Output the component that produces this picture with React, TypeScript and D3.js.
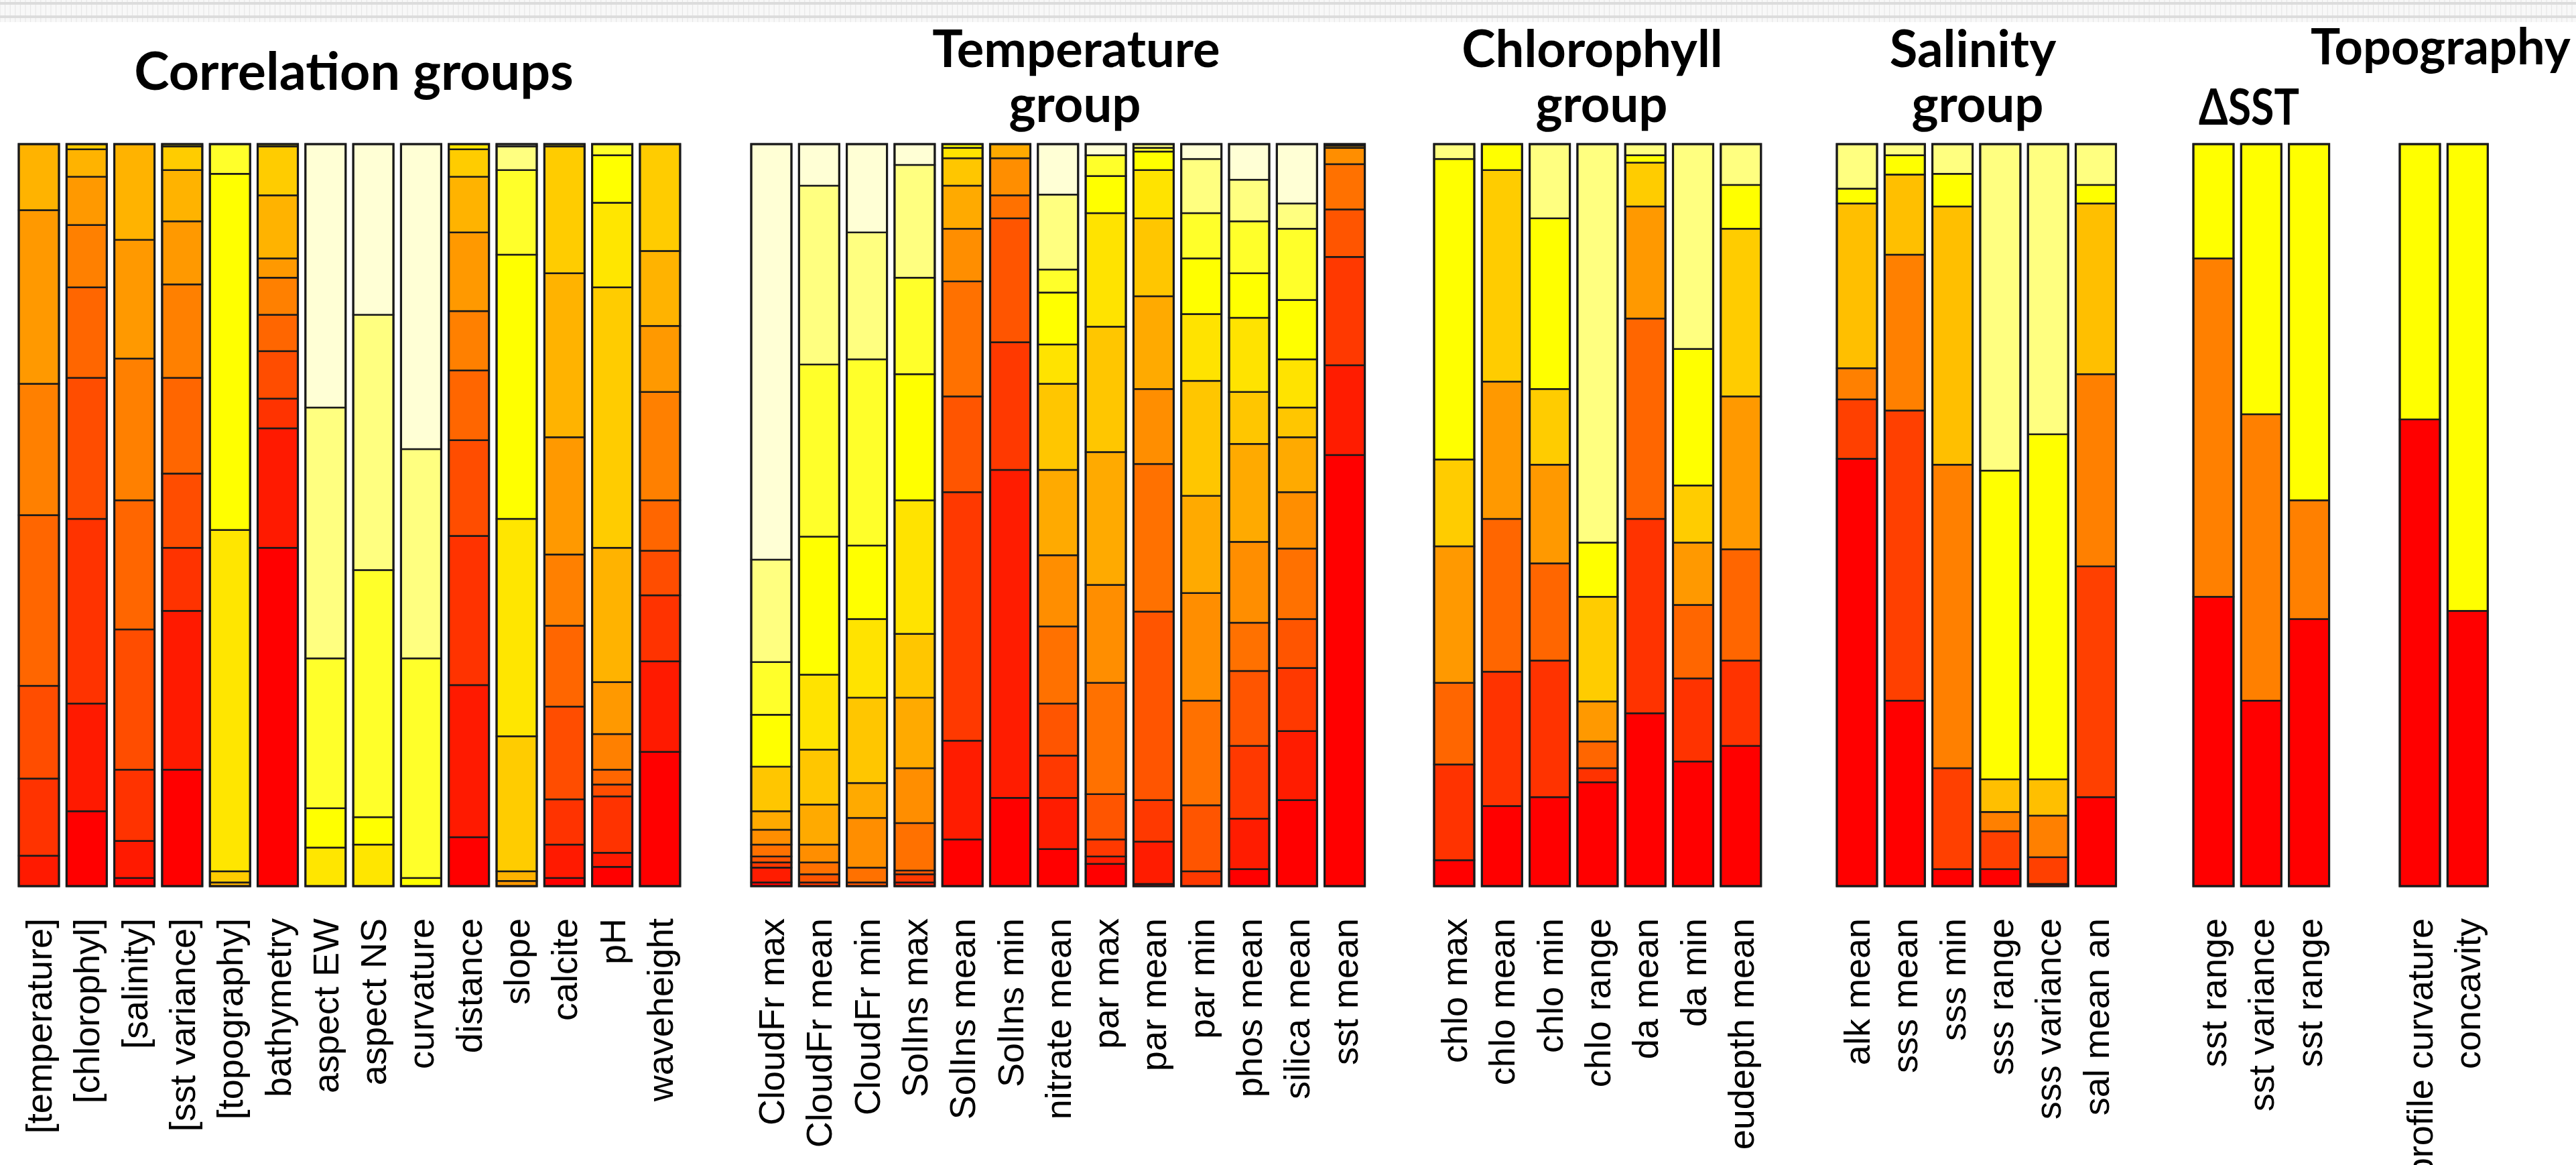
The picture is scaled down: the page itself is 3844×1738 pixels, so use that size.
import React from 'react';
import * as d3 from 'd3';

// share of each rank (rank 1 = red, at the bottom) for every variable
const corrLabels = ['[temperature]', '[chlorophyl]', '[salinity]', '[sst variance]', '[topography]', 'bathymetry', 'aspect EW', 'aspect NS', 'curvature', 'distance', 'slope', 'calcite', 'pH', 'waveheight'];
const corrValues = [
  [0, 0.041, 0.104, 0.125, 0.23, 0.177, 0.234, 0.089, 0, 0, 0, 0, 0, 0],
  [0.101, 0.145, 0.249, 0.19, 0.122, 0.084, 0.065, 0.037, 0.007, 0, 0, 0, 0, 0],
  [0.011, 0.05, 0.096, 0.189, 0.174, 0.191, 0.16, 0.129, 0, 0, 0, 0, 0, 0],
  [0.157, 0.214, 0.085, 0.1, 0.129, 0.126, 0.085, 0.069, 0.032, 0.003, 0, 0, 0, 0],
  [0, 0, 0, 0, 0, 0, 0, 0.005, 0.015, 0.46, 0.48, 0.04, 0, 0],
  [0.456, 0.161, 0.04, 0.064, 0.049, 0.05, 0.026, 0.085, 0.066, 0.003, 0, 0, 0, 0],
  [0, 0, 0, 0, 0, 0, 0, 0, 0, 0.052, 0.053, 0.202, 0.338, 0.355],
  [0, 0, 0, 0, 0, 0, 0, 0, 0, 0.056, 0.037, 0.333, 0.344, 0.23],
  [0, 0, 0, 0, 0, 0, 0, 0, 0, 0, 0.011, 0.296, 0.282, 0.411],
  [0.066, 0.205, 0.201, 0.129, 0.094, 0.08, 0.106, 0.075, 0.037, 0.007, 0, 0, 0, 0],
  [0, 0, 0, 0, 0, 0, 0.007, 0.013, 0.182, 0.293, 0.356, 0.114, 0.032, 0.003],
  [0.011, 0.045, 0.061, 0.125, 0.109, 0.096, 0.158, 0.221, 0.171, 0.003, 0, 0, 0, 0],
  [0.026, 0.019, 0.076, 0.016, 0.02, 0.048, 0.07, 0.181, 0.351, 0.114, 0.064, 0.015, 0, 0],
  [0.181, 0.122, 0.089, 0.06, 0.068, 0.146, 0.089, 0.101, 0.144, 0, 0, 0, 0, 0],
];

const tempLabels = ['CloudFr max', 'CloudFr mean', 'CloudFr min', 'SolIns max', 'SolIns mean', 'SolIns min', 'nitrate mean', 'par max', 'par mean', 'par min', 'phos mean', 'silica mean', 'sst mean'];
const tempValues = [
  [0.005, 0.02, 0.007, 0.008, 0.016, 0.02, 0.025, 0.06, 0, 0.07, 0.071, 0.138, 0.56],
  [0, 0, 0.005, 0.011, 0.016, 0.024, 0.054, 0.074, 0.101, 0.186, 0.232, 0.241, 0.056],
  [0, 0, 0, 0.005, 0.02, 0.067, 0.047, 0.115, 0.106, 0.099, 0.251, 0.171, 0.119],
  [0, 0.005, 0.011, 0.005, 0.064, 0.074, 0.095, 0.086, 0.18, 0.17, 0.13, 0.152, 0.028],
  [0.063, 0.133, 0.335, 0.129, 0.155, 0.071, 0.058, 0.037, 0.014, 0.005, 0, 0, 0],
  [0.119, 0.442, 0.172, 0.167, 0.031, 0.05, 0.019, 0, 0, 0, 0, 0, 0],
  [0.05, 0.069, 0.057, 0.07, 0.104, 0.096, 0.115, 0.116, 0.053, 0.07, 0.031, 0.101, 0.068],
  [0.03, 0.01, 0.023, 0.061, 0.15, 0.132, 0.179, 0.169, 0.153, 0.05, 0.028, 0, 0.015],
  [0.003, 0.057, 0.056, 0.254, 0.199, 0.101, 0.125, 0.105, 0.065, 0.025, 0.005, 0.005, 0],
  [0, 0, 0.02, 0.089, 0.141, 0.145, 0.131, 0.155, 0.09, 0.075, 0.061, 0.073, 0.02],
  [0.023, 0.068, 0.098, 0.101, 0.065, 0.109, 0.132, 0.07, 0.1, 0.06, 0.07, 0.056, 0.048],
  [0.116, 0.093, 0.085, 0.066, 0.095, 0.076, 0.074, 0.04, 0.065, 0.08, 0.096, 0.034, 0.08],
  [0.581, 0.121, 0.146, 0.064, 0.061, 0.022, 0.003, 0.002, 0, 0, 0, 0, 0],
];

const chloLabels = ['chlo max', 'chlo mean', 'chlo min', 'chlo range', 'da mean', 'da min', 'eudepth mean'];
const chloValues = [
  [0.035, 0.129, 0.11, 0.184, 0.117, 0.405, 0.02],
  [0.108, 0.181, 0.206, 0.185, 0.285, 0.035, 0],
  [0.12, 0.184, 0.131, 0.133, 0.102, 0.23, 0.1],
  [0.14, 0.019, 0.036, 0.054, 0.141, 0.073, 0.537],
  [0.233, 0.262, 0.27, 0.151, 0.059, 0.01, 0.015],
  [0.168, 0.112, 0.099, 0.084, 0.077, 0.184, 0.276],
  [0.189, 0.115, 0.15, 0.206, 0.226, 0.059, 0.055],
];

const salLabels = ['alk mean', 'sss mean', 'sss min', 'sss range', 'sss variance', 'sal mean an'];
const salValues = [
  [0.576, 0.08, 0.042, 0.222, 0.02, 0.06],
  [0.25, 0.391, 0.21, 0.108, 0.026, 0.015],
  [0.023, 0.136, 0.409, 0.348, 0.044, 0.04],
  [0.023, 0.051, 0.026, 0.044, 0.416, 0.44],
  [0.003, 0.036, 0.056, 0.049, 0.465, 0.391],
  [0.12, 0.311, 0.259, 0.23, 0.025, 0.055],
];

const dsstLabels = ['sst range', 'sst variance', 'sst range'];
const dsstValues = [
  [0.39, 0.456, 0.154],
  [0.25, 0.386, 0.364],
  [0.36, 0.16, 0.48],
];

const topoLabels = ['profile curvature', 'concavity'];
const topoValues = [
  [0.629, 0.371],
  [0.371, 0.629],
];

// R's heat.colors(n)
function heatColors(n: number): string[] {
  const j = Math.floor(n / 4);
  const i = n - j;
  const cols: string[] = [];
  for (let k = 0; k < i; k++) {
    const h = i > 1 ? (k / (i - 1)) * 60 : 0;
    cols.push(d3.rgb(255, Math.round((255 * h) / 60), 0).formatHex());
  }
  for (let k = 0; k < j; k++) {
    const s = j > 1 ? 1 - 1 / (2 * j) - (k * (1 - 1 / j)) / (j - 1) : 0.5;
    cols.push(d3.rgb(255, 255, Math.round(255 * (1 - s))).formatHex());
  }
  return cols;
}

const W = 3844;
const H = 1738;
const PITCH = 71.3;
const BAR_W = 60;
const TOP = 215;
const BOTTOM = 1322;

const groups = [
  { labels: corrLabels, values: corrValues, start: 28 },
  { labels: tempLabels, values: tempValues, start: 1121 },
  { labels: chloLabels, values: chloValues, start: 2140 },
  { labels: salLabels, values: salValues, start: 2741 },
  { labels: dsstLabels, values: dsstValues, start: 3273 },
  { labels: topoLabels, values: topoValues, start: 3581 },
];

const titles = [
  { text: 'Correlation groups', x: 528, y: 134, size: 79 },
  { text: 'Temperature', x: 1606, y: 100, size: 76 },
  { text: 'group', x: 1604, y: 182, size: 76 },
  { text: 'Chlorophyll', x: 2376, y: 100, size: 76 },
  { text: 'group', x: 2390, y: 182, size: 76 },
  { text: 'Salinity', x: 2944, y: 100, size: 76 },
  { text: 'group', x: 2951, y: 182, size: 76 },
  { text: '\u0394SST', x: 3356, y: 186, size: 74, len: 150 },
  { text: 'Topography', x: 3448, y: 96, size: 74, anchor: 'start' },
];

const App = () => {
  const y = d3.scaleLinear().domain([0, 1]).range([BOTTOM, TOP]);

  return (
    <svg
      width={W}
      height={H}
      style={{ position: 'absolute', left: 0, top: 0, display: 'block', background: '#fff' }}
    >
      {/* faint ruler strip along the top edge */}
      <rect x={0} y={0} width={W} height={33} fill="#f8f8f8" />
      {d3.range(0, W, 7.6).map((x, i) => (
        <line key={i} x1={x} x2={x} y1={0} y2={33} stroke="#e4e4e4" strokeWidth={1} />
      ))}
      <line x1={0} x2={W} y1={5} y2={5} stroke="#dcdcdc" strokeWidth={4} />
      <line x1={0} x2={W} y1={25} y2={25} stroke="#dcdcdc" strokeWidth={4} />

      {titles.map((t, i) => (
        <text
          key={i}
          x={t.x}
          y={t.y}
          textAnchor={t.anchor || 'middle'}
          fontFamily="Lato, 'Open Sans', sans-serif"
          fontWeight={700}
          fontSize={t.size}
          textLength={t.len}
          lengthAdjust={t.len ? 'spacingAndGlyphs' : undefined}
          fill="#000"
        >
          {t.text}
        </text>
      ))}

      {groups.map((g, gi) => {
        const k = g.labels.length;
        const colors = heatColors(k);
        const p = (PITCH - BAR_W) / PITCH;
        const x = d3
          .scaleBand()
          .domain(d3.range(k).map(String))
          .range([g.start, g.start + (k - 1) * PITCH + BAR_W])
          .paddingInner(p)
          .paddingOuter(0);
        return (
          <g key={gi}>
            {g.values.map((vals, bi) => {
              const stack = d3.cumsum(vals);
              const x0 = x(String(bi)) as number;
              return (
                <g key={bi}>
                  {vals.map((v, si) => {
                    const lo = si === 0 ? 0 : stack[si - 1];
                    const hi = Math.min(1, stack[si]);
                    return (
                      <rect
                        key={si}
                        x={x0}
                        y={y(hi)}
                        width={x.bandwidth()}
                        height={Math.max(0, y(lo) - y(hi))}
                        fill={colors[si]}
                        stroke="#1a1a1a"
                        strokeWidth={2.5}
                      />
                    );
                  })}
                  <rect
                    x={x0}
                    y={y(1)}
                    width={x.bandwidth()}
                    height={y(0) - y(1)}
                    fill="none"
                    stroke="#1a1a1a"
                    strokeWidth={3.2}
                  />
                  <text
                    transform={`translate(${x0 + x.bandwidth() / 2},${BOTTOM + 48}) rotate(-90)`}
                    textAnchor="end"
                    dominantBaseline="central"
                    fontFamily="'Liberation Sans', Arial, sans-serif"
                    fontSize={54}
                    fill="#000"
                  >
                    {g.labels[bi]}
                  </text>
                </g>
              );
            })}
          </g>
        );
      })}
    </svg>
  );
};

export default App;
